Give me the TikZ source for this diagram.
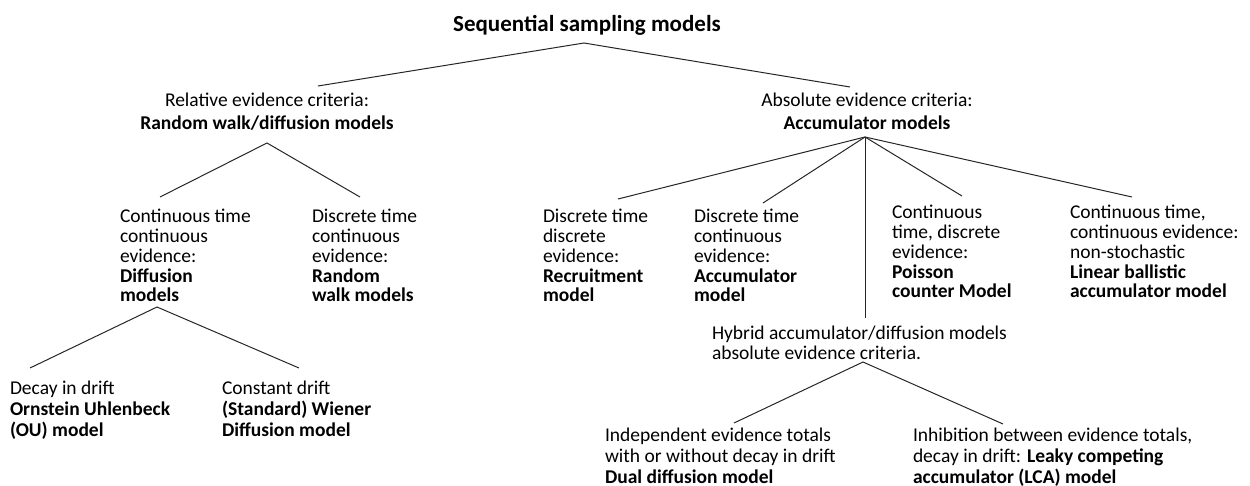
\documentclass[tikz,border=0pt]{standalone}
\usepackage{fontspec}
\setmainfont{Carlito}
\begin{document}
\begin{tikzpicture}[x=1pt,y=-1pt,
  txt/.style={inner sep=0pt, outer sep=0pt, align=left, anchor=base west, font=\fontsize{19.5}{19.7}\selectfont},
  txtb/.style={txt, font=\fontsize{19.5}{21}\selectfont},
  ctxt/.style={txt, align=center, anchor=base, font=\fontsize{19.5}{23}\selectfont},
  link/.style={line width=1pt, draw=black!85}]
\useasboundingbox (0,0) rectangle (1250,486);
% nodes (anchor = baseline of the last line)
\node[ctxt, font=\fontsize{23}{27}\selectfont\bfseries] (title) at (587,32) {Sequential sampling models};
\node[ctxt] (rel) at (267,130) {Relative evidence criteria:\\\textbf{Random walk/diffusion models}};
\node[ctxt] (abs) at (867,130) {Absolute evidence criteria:\\\textbf{Accumulator models}};
\node[txt] (diff) at (120,301.8) {Continuous time\\continuous\\evidence:\\\textbf{Diffusion}\\\textbf{models}};
\node[txt] (rw) at (312,301.8) {Discrete time\\continuous\\evidence:\\\textbf{Random}\\\textbf{walk models}};
\node[txt] (rec) at (543,301.8) {Discrete time\\discrete\\evidence:\\\textbf{Recruitment}\\\textbf{model}};
\node[txt] (acc) at (694,301.8) {Discrete time\\continuous\\evidence:\\\textbf{Accumulator}\\\textbf{model}};
\node[txt] (poi) at (892,297.8) {Continuous\\time, discrete\\evidence:\\\textbf{Poisson}\\\textbf{counter Model}};
\node[txt] (lba) at (1070,297.8) {Continuous time,\\continuous evidence:\\non-stochastic\\\textbf{Linear ballistic}\\\textbf{accumulator model}};
\node[txt, font=\fontsize{19.5}{20}\selectfont] (hyb) at (712,359) {Hybrid accumulator/diffusion models\\absolute evidence criteria.};
\node[txtb] (ou) at (10,436) {Decay in drift\\\textbf{Ornstein Uhlenbeck}\\\textbf{(OU) model}};
\node[txtb] (wie) at (222,436) {Constant drift\\\textbf{(Standard) Wiener}\\\textbf{Diffusion model}};
\node[txtb] (dual) at (605,483) {Independent evidence totals\\with or without decay in drift\\\textbf{Dual diffusion model}};
\node[txtb] (lca) at (913,483) {Inhibition between evidence totals,\\decay in drift: \textbf{Leaky competing}\\\textbf{accumulator (LCA) model}};
% connector end points
\coordinate (title-s) at (584,43);
\coordinate (rel-n) at (318,86);
\coordinate (abs-n) at (850,87);
\coordinate (rel-s) at (267,143);
\coordinate (diff-n) at (160,197);
\coordinate (rw-n) at (360,197);
\coordinate (diff-s) at (157,307);
\coordinate (ou-n) at (30,368);
\coordinate (wie-n) at (299,368);
\coordinate (abs-s) at (865,137);
\coordinate (rec-n) at (618,199);
\coordinate (acc-n) at (763,203);
\coordinate (hyb-n) at (865,318);
\coordinate (poi-n) at (962,196);
\coordinate (lba-n) at (1132,197);
\coordinate (hyb-s) at (863,362);
\coordinate (dual-n) at (734,423);
\coordinate (lca-n) at (1003,424);
% connectors
\draw[link] (rel-n) -- (title-s) -- (abs-n);
\draw[link] (diff-n) -- (rel-s) -- (rw-n);
\draw[link] (ou-n) -- (diff-s) -- (wie-n);
\draw[link] (rec-n) -- (abs-s);
\draw[link] (acc-n) -- (abs-s);
\draw[link] (hyb-n) -- (abs-s);
\draw[link] (poi-n) -- (abs-s);
\draw[link] (lba-n) -- (abs-s);
\draw[link] (dual-n) -- (hyb-s) -- (lca-n);
\end{tikzpicture}
\end{document}
